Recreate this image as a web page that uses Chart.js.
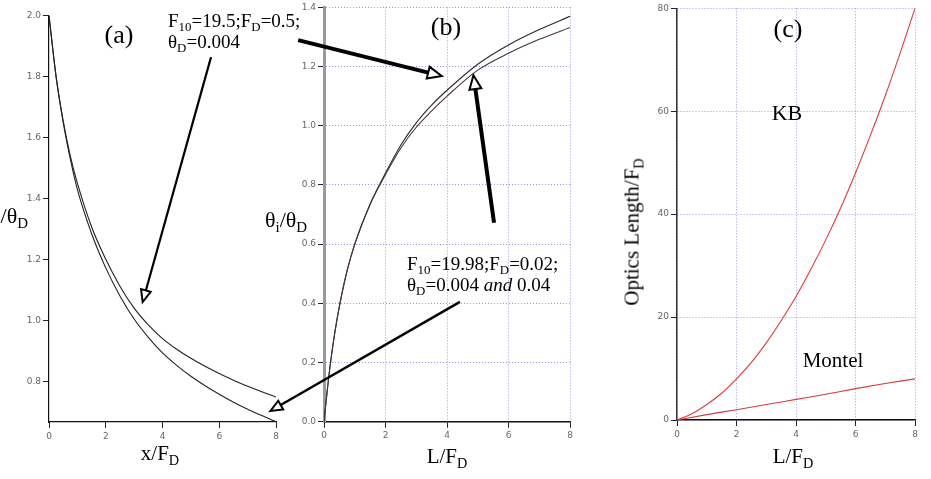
<!DOCTYPE html>
<html><head><meta charset="utf-8">
<script src="https://cdn.jsdelivr.net/npm/chart.js@4.4.0/dist/chart.umd.min.js"></script>
<style>
html,body{margin:0;padding:0;background:#fff;}
#root{position:relative;width:931px;height:479px;overflow:hidden;background:#fff;font-family:"Liberation Serif","Times New Roman",serif;color:#000;}
.cw{position:absolute;top:0;}
.t{position:absolute;white-space:nowrap;line-height:1;}
.c{transform:translateX(-50%);}
sub{font-size:68%;vertical-align:-0.32em;line-height:0;}
#ov{position:absolute;left:0;top:0;pointer-events:none;}
</style></head>
<body><div id="root">
<canvas class="cw" id="ca" width="300" height="479" style="left:0px"></canvas>
<canvas class="cw" id="cb" width="305" height="479" style="left:285px"></canvas>
<canvas class="cw" id="cc" width="291" height="479" style="left:640px"></canvas>
<canvas id="ov" width="931" height="479"></canvas>

<div class="t c" style="left:119px;top:22px;font-size:26px">(a)</div>
<div class="t c" style="left:446px;top:14px;font-size:26px">(b)</div>
<div class="t c" style="left:788px;top:16px;font-size:26px">(c)</div>

<div class="t" style="left:168px;top:10px;font-size:19px;line-height:21px">F<sub>10</sub>=19.5;F<sub>D</sub>=0.5;<br>θ<sub>D</sub>=0.004</div>
<div class="t" style="left:407px;top:253px;font-size:19px;line-height:21px">F<sub>10</sub>=19.98;F<sub>D</sub>=0.02;<br>θ<sub>D</sub>=0.004 <i>and</i> 0.04</div>

<div class="t c" style="left:160px;top:443px;font-size:21px">x/F<sub>D</sub></div>
<div class="t c" style="left:447px;top:446px;font-size:21px">L/F<sub>D</sub></div>
<div class="t c" style="left:793px;top:446px;font-size:21px">L/F<sub>D</sub></div>
<div class="t" style="left:265px;top:209px;font-size:22px">θ<sub>i</sub>/θ<sub>D</sub></div>
<div class="t" style="left:28px;top:205px;font-size:22px;transform:translateX(-100%)">θ/θ<sub>D</sub></div>
<div class="t c" style="left:787px;top:102px;font-size:22px">KB</div>
<div class="t c" style="left:833px;top:350px;font-size:21px">Montel</div>
<div class="t" style="left:632px;top:232px;font-size:21px;transform:translate(-50%,-50%) rotate(-90deg)">Optics Length/F<sub>D</sub></div>
</div>
<script>
// ---------- data ----------
// panel (a): theta/theta_D vs x/F_D
const aX = [0,0.25,0.5,0.75,1,1.5,2,2.5,3,3.5,4,4.5,5,5.5,6,6.5,7,7.5,8];
const aLower = [2.0,1.80,1.65,1.53,1.43,1.285,1.172,1.08,1.004,0.944,0.893,0.852,0.816,0.785,0.757,0.731,0.708,0.687,0.667];
const aUpper = [2.0,1.80,1.655,1.54,1.45,1.307,1.20,1.112,1.04,0.985,0.94,0.905,0.875,0.849,0.825,0.803,0.783,0.765,0.748];
const aXTicks = [0,2,4,6,8];
const aYTicks = [0.8,1.0,1.2,1.4,1.6,1.8,2.0];

// panel (b): theta_i/theta_D vs L/F_D
const bX = [0,0.1,0.2,0.35,0.5,0.75,1,1.5,2,2.5,3,3.5,4,5,6,7,8];
const bLower = [0,0.10,0.19,0.30,0.39,0.51,0.60,0.735,0.835,0.925,0.995,1.05,1.10,1.188,1.245,1.292,1.332];
const bUpper = [0,0.10,0.19,0.30,0.39,0.51,0.60,0.735,0.84,0.935,1.01,1.07,1.12,1.208,1.273,1.325,1.37];
const bXTicks = [0,2,4,6,8];
const bYTicks = [0.0,0.2,0.4,0.6,0.8,1.0,1.2,1.4];

// panel (c): optics length/F_D vs L/F_D
const cKBX = [0,0.5,1,1.5,2,2.5,3,3.5,4,4.5,5,5.5,6,6.5,7,7.5,8];
const cKB = [0,1.2,3,5.2,8,11.2,15,19.3,24,29.3,35,41.2,48,55.3,63,71.3,80];
const cMonX = [0,1,2,3,4,5,6,7,8];
const cMontel = [0,1.05,2,3,4,5,6.1,7.1,8];
const cXTicks = [0,2,4,6,8];
const cYTicks = [0,20,40,60,80];

// ---------- helpers ----------
const pts = (xs, ys) => xs.map((x,i)=>({x:x, y:ys[i]}));
const tickFont = {family:'"DejaVu Sans", sans-serif', size:9};
const tickColor = '#666';
const setTicks = arr => (s => { s.ticks = arr.map(v=>({value:v})); });

function ds(data, color, w){
  return {data:data, borderColor:color, borderWidth:w, pointRadius:0, fill:false,
          cubicInterpolationMode:'monotone', showLine:true};
}
const baseOpts = {
  responsive:false, animation:false, events:[],
  plugins:{legend:{display:false}, tooltip:{enabled:false}, title:{display:false}}
};

// ---------- chart (a) ----------
const chA = new Chart(document.getElementById('ca'), {
  type:'scatter',
  data:{datasets:[ds(pts(aX,aLower),'#222',1.1), ds(pts(aX,aUpper),'#222',1.1)]},
  options:Object.assign({}, baseOpts, {
    layout:{padding:{left:0, top:15.7, right:24, bottom:0}},
    scales:{
      x:{type:'linear', min:0, max:8, afterBuildTicks:setTicks(aXTicks),
         afterFit:s=>{s.height=57;},
         ticks:{font:tickFont, color:tickColor, padding:3, maxRotation:0, callback:v=>String(v)},
         grid:{drawOnChartArea:false, drawTicks:true, tickLength:6, tickColor:'#222'},
         border:{display:true, color:'#111', width:1.2}},
      y:{type:'linear', min:0.666, max:2.0, afterBuildTicks:setTicks(aYTicks),
         afterFit:s=>{s.width=49;},
         ticks:{font:tickFont, color:tickColor, padding:2, callback:v=>v.toFixed(1)},
         grid:{drawOnChartArea:false, drawTicks:true, tickLength:6, tickColor:'#222'},
         border:{display:true, color:'#111', width:1.2}}
    }
  })
});

// ---------- chart (b) ----------
const gridBlue = '#9a9ae0';
const chB = new Chart(document.getElementById('cb'), {
  type:'scatter',
  data:{datasets:[ds(pts(bX,bLower),'#4a3438',1.1), ds(pts(bX,bUpper),'#2a2a2a',1.1)]},
  options:Object.assign({}, baseOpts, {
    layout:{padding:{left:0, top:7.3, right:20, bottom:0}},
    scales:{
      x:{type:'linear', min:0, max:8, afterBuildTicks:setTicks(bXTicks),
         afterFit:s=>{s.height=57.3;},
         ticks:{font:tickFont, color:tickColor, padding:3, maxRotation:0, callback:v=>String(v)},
         grid:{drawOnChartArea:true, color:gridBlue, lineWidth:1, drawTicks:true, tickLength:6, tickColor:'#222'},
         border:{display:true, color:'#111', width:1.5, dash:[1,2]}},
      y:{type:'linear', min:0, max:1.4, afterBuildTicks:setTicks(bYTicks),
         afterFit:s=>{s.width=39;},
         ticks:{font:tickFont, color:tickColor, padding:2, callback:v=>v.toFixed(1)},
         grid:{drawOnChartArea:true, color:gridBlue, lineWidth:1, drawTicks:true, tickLength:6, tickColor:'#222'},
         border:{display:true, color:'#9a9a9a', width:3, dash:[1,2]}}
    }
  })
});

// ---------- chart (c) ----------
const chC = new Chart(document.getElementById('cc'), {
  type:'scatter',
  data:{datasets:[ds(pts(cKBX,cKB),'#e03a3a',1.1), ds(pts(cMonX,cMontel),'#d83a3a',1.1)]},
  options:Object.assign({}, baseOpts, {
    layout:{padding:{left:0, top:8.3, right:16, bottom:0}},
    scales:{
      x:{type:'linear', min:0, max:8, afterBuildTicks:setTicks(cXTicks),
         afterFit:s=>{s.height=59;},
         ticks:{font:tickFont, color:tickColor, padding:3, maxRotation:0, callback:v=>String(v)},
         grid:{drawOnChartArea:true, color:gridBlue, lineWidth:1, drawTicks:true, tickLength:6, tickColor:'#222'},
         border:{display:true, color:'#111', width:1.5, dash:[1,2]}},
      y:{type:'linear', min:0, max:80, afterBuildTicks:setTicks(cYTicks),
         afterFit:s=>{s.width=37;},
         ticks:{font:tickFont, color:tickColor, padding:2, callback:v=>String(v)},
         grid:{drawOnChartArea:true, color:gridBlue, lineWidth:1, drawTicks:true, tickLength:6, tickColor:'#222'},
         border:{display:true, color:'#333', width:1.5, dash:[1,2]}}
    }
  })
});

// ---------- annotation arrows (anchored in data coordinates) ----------
const charts = {a:[chA,0], b:[chB,285], c:[chC,640]};
function P(ref){
  const [ch, off] = charts[ref[0]];
  return [off + ch.scales.x.getPixelForValue(ref[1]), ch.scales.y.getPixelForValue(ref[2])];
}
const arrows = [
  {from:['a',5.71,1.864], to:['a',3.30,1.06], lw:2.2, hl:12, hw:10},
  {from:['a',8.78,1.92],  to:['b',3.83,1.168], lw:4, hl:14, hw:12},
  {from:['b',5.53,0.672], to:['b',4.86,1.171], lw:4, hl:14, hw:12},
  {from:['b',4.42,0.405], to:['a',7.80,0.702], lw:2.4, hl:12, hw:10}
];
const ov = document.getElementById('ov').getContext('2d');
function arrow(ctx, p1, p2, lw, hl, hw){
  const a = Math.atan2(p2[1]-p1[1], p2[0]-p1[0]);
  const bx = p2[0]-hl*Math.cos(a), by = p2[1]-hl*Math.sin(a);
  ctx.strokeStyle='#000'; ctx.lineWidth=lw; ctx.lineCap='butt';
  ctx.beginPath(); ctx.moveTo(p1[0],p1[1]); ctx.lineTo(bx,by); ctx.stroke();
  const nx=-Math.sin(a), ny=Math.cos(a);
  ctx.beginPath();
  ctx.moveTo(p2[0],p2[1]);
  ctx.lineTo(bx+nx*hw/2, by+ny*hw/2);
  ctx.lineTo(bx-nx*hw/2, by-ny*hw/2);
  ctx.closePath();
  ctx.fillStyle='#fff'; ctx.fill();
  ctx.lineWidth=Math.min(lw,2); ctx.lineJoin='miter'; ctx.stroke();
}
arrows.forEach(ar => arrow(ov, P(ar.from), P(ar.to), ar.lw, ar.hl, ar.hw));
</script>
</body></html>
